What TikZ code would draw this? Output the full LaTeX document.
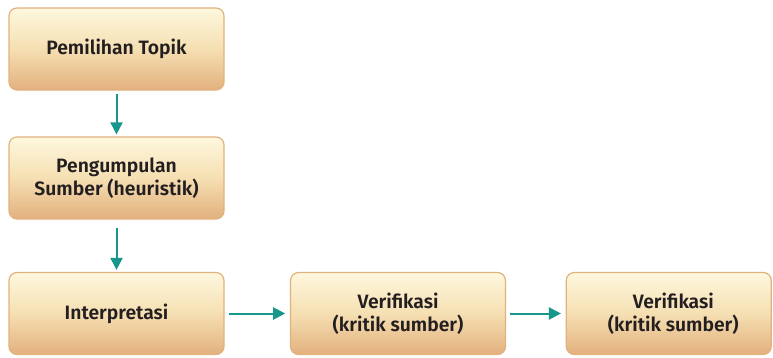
\documentclass[tikz,border=0pt]{standalone}
\usepackage{fontspec}
\setmainfont{Fira Sans}[BoldFont={Fira Sans SemiBold}]
\usetikzlibrary{arrows.meta}
\definecolor{boxtop}{HTML}{FEF8DE}
\definecolor{boxmid}{HTML}{F5DFB2}
\definecolor{boxbot}{HTML}{E3B07E}
\definecolor{boxline}{HTML}{E2B27C}
\definecolor{teal}{HTML}{17978C}
\definecolor{txt}{HTML}{231F20}
\tikzset{
  boxtext/.style={align=center, font=\fontsize{14.5}{17}\selectfont\bfseries, text=txt, inner sep=0pt},
  stepbox/.style={rectangle, rounded corners=6pt, draw=boxline, line width=0.9pt,
    top color=boxtop, bottom color=boxbot, middle color=boxmid, minimum width=161.25pt, minimum height=61.5pt,
    boxtext},
  flow/.style={draw=teal, line width=1.5pt, -{Triangle[length=9pt,width=9pt]}}
}
\begin{document}
\begin{tikzpicture}[x=0.75pt,y=-0.75pt]
\useasboundingbox (0,0) rectangle (773,357);
\node[stepbox] (a) at (116.5,49) {Pemilihan Topik};
\node[stepbox] (b) at (116.5,178) {Pengumpulan\\Sumber (heuristik)};
\node[stepbox] (c) at (116.5,313.5) {Interpretasi};
\node[stepbox] (d) at (398,313.5) {Verifikasi\\(kritik sumber)};
\node[stepbox, minimum width=153.75pt] (e) at (668.75,313.5) {};
\node[boxtext] (et) at ([xshift=3.4pt]e.center) {Verifikasi\\(kritik sumber)};
\draw[flow] ([yshift=-2.5pt]a.south) -- ([yshift=1.5pt]b.north);
\draw[flow] ([yshift=-6pt]b.south) -- ([yshift=1.5pt]c.north);
\draw[flow] ([xshift=3pt]c.east) -- ([xshift=-3.5pt]d.west);
\draw[flow] ([xshift=3pt]d.east) -- ([xshift=-3.5pt]e.west);
\end{tikzpicture}
\end{document}
